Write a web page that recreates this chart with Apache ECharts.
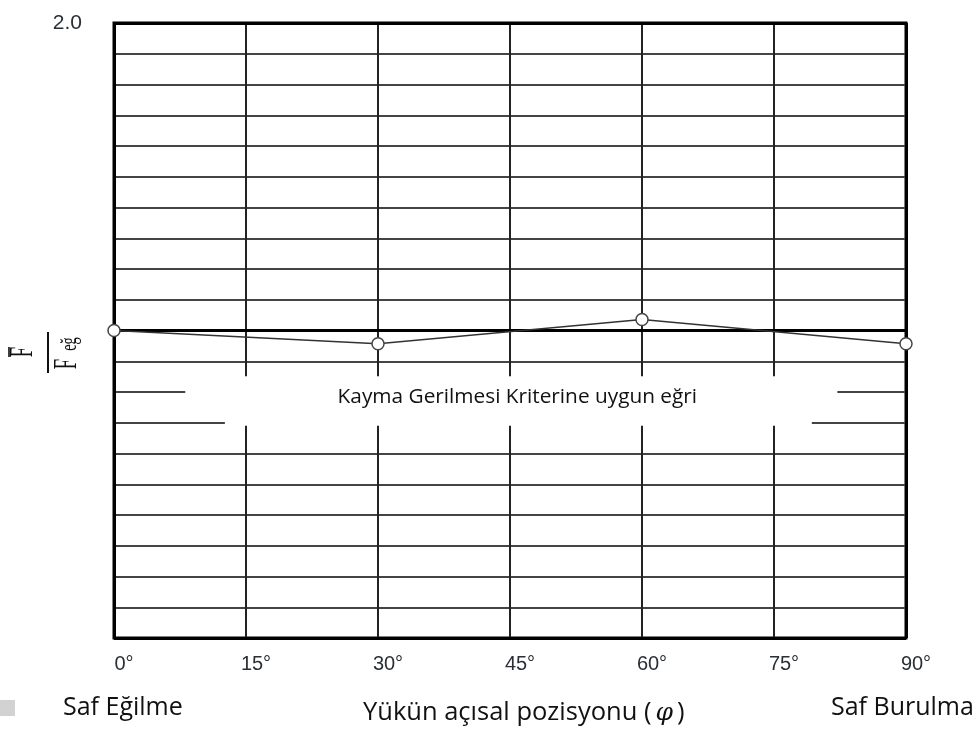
<!DOCTYPE html>
<html>
<head>
<meta charset="utf-8">
<script src="https://cdn.jsdelivr.net/npm/echarts@6/dist/echarts.min.js"></script>
<style>html,body{margin:0;padding:0;background:#fff;}#c{width:980px;height:740px;}</style>
</head>
<body>
<div id="c"></div>
<script>
// ---- data ----
const xTicks = [0, 15, 30, 45, 60, 75, 90];
const xTickLabels = ['0°', '15°', '30°', '45°', '60°', '75°', '90°'];
const yTopLabel = '2.0';
const angles = [0, 30, 60, 90];
const ratio = [1.0, 0.957, 1.036, 0.957];
const curveLabel = 'Kayma Gerilmesi Kriterine uygun eğri';
const leftNote = 'Saf Eğilme';
const rightNote = 'Saf Burulma';
const xTitle = 'Yükün açısal pozisyonu (φ)';

const chart = echarts.init(document.getElementById('c'), null, {renderer: 'canvas'});

const option = {
  backgroundColor: '#fff',
  animation: false,
  grid: {left: 114, right: 74, top: 23, bottom: 102, show: true, borderColor: '#000', borderWidth: 3, backgroundColor: '#fff'},
  xAxis: {
    type: 'value', min: xTicks[0], max: xTicks[xTicks.length - 1], interval: 15,
    axisLine: {show: false}, axisTick: {show: false},
    splitLine: {show: true, lineStyle: {color: '#222', width: 2}},
    axisLabel: {
      formatter: v => { const i = xTicks.indexOf(v); return i >= 0 ? xTickLabels[i] : ''; },
      color: '#2a2f36', fontSize: 20, fontFamily: 'Liberation Sans', margin: 16,
      padding: [0, 0, 0, 20]
    }
  },
  yAxis: {
    type: 'value', min: 0, max: 2, interval: 0.1,
    axisLine: {show: false}, axisTick: {show: false},
    splitLine: {show: true, lineStyle: {color: '#444', width: 2}},
    axisLabel: {
      formatter: v => Math.abs(v - 2) < 1e-9 ? yTopLabel : '',
      color: '#2a2f36', fontSize: 21, fontFamily: 'Liberation Sans', margin: 32,
      padding: [0, 0, 14, 0]
    }
  },
  series: [
    {
      type: 'line', data: [], silent: true,
      markArea: {
        silent: true,
        itemStyle: {color: '#fff', opacity: 1, borderWidth: 0},
        data: [
          [{xAxis: 8.1, yAxis: 0.851, label: {show: true, position: 'inside', formatter: curveLabel, color: '#111', fontSize: 20.8, fontFamily: 'Open Sans', offset: [6, 4]}},
           {xAxis: 82.2, yAxis: 0.745}],
          [{xAxis: 12.6, yAxis: 0.75, label: {show: false}}, {xAxis: 79.3, yAxis: 0.69}]
        ]
      },
      markLine: {
        silent: true, symbol: 'none', label: {show: false},
        lineStyle: {color: '#000', width: 3, type: 'solid'},
        data: [
          {yAxis: 1.0},
          {yAxis: 0},
          {yAxis: 2},
          {xAxis: 0},
          {xAxis: 90}
        ]
      }
    },
    {
      type: 'line', z: 10, clip: false,
      data: angles.map((a, i) => [a, ratio[i]]),
      symbol: 'circle', symbolSize: 12,
      lineStyle: {color: '#333', width: 1.5},
      itemStyle: {color: '#fff', borderColor: '#444', borderWidth: 1.5}
    }
  ],
  graphic: [
    {type: 'rect', shape: {x: 0, y: 700, width: 15, height: 16}, style: {fill: '#d2d2d2'}},
    {type: 'text', x: 63, y: 708, style: {text: leftNote, fontSize: 25, fontFamily: 'Open Sans', fill: '#111', align: 'left', verticalAlign: 'middle'}},
    {type: 'text', x: 831, y: 708, style: {text: rightNote, fontSize: 25, fontFamily: 'Open Sans', fill: '#111', align: 'left', verticalAlign: 'middle'}},
    {type: 'text', x: 363, y: 713, style: {
      text: '{a|Yükün açısal pozisyonu (}{b|φ}{a|)}', align: 'left', verticalAlign: 'middle',
      rich: {a: {fontSize: 25.5, fontFamily: 'Open Sans', fill: '#111'}, b: {fontSize: 25, fontFamily: 'DejaVu Serif', fontStyle: 'italic', fill: '#111', padding: [0, 4, 0, 4]}}
    }},
    {
      type: 'group', x: 48, y: 352, rotation: Math.PI / 2,
      children: [
        {type: 'text', x: 0, y: -25, scaleX: 0.55, style: {text: 'F', fontSize: 34, fontFamily: 'Liberation Serif', fill: '#111', align: 'center', verticalAlign: 'middle'}},
        {type: 'line', shape: {x1: -5, y1: -39, x2: 5, y2: -39}, style: {stroke: '#111', lineWidth: 1.6}},
        {type: 'line', shape: {x1: -21, y1: 0, x2: 20, y2: 0}, style: {stroke: '#111', lineWidth: 2}},
        {type: 'text', x: -12, y: 19, scaleX: 0.55, style: {text: 'F', fontSize: 34, fontFamily: 'Liberation Serif', fill: '#111', align: 'center', verticalAlign: 'middle'}},
        {type: 'text', x: 8, y: 22, scaleX: 0.6, style: {text: 'eğ', fontSize: 24, fontFamily: 'Liberation Serif', fill: '#111', align: 'center', verticalAlign: 'middle'}}
      ]
    }
  ]
};
chart.setOption(option);
</script>
</body>
</html>
